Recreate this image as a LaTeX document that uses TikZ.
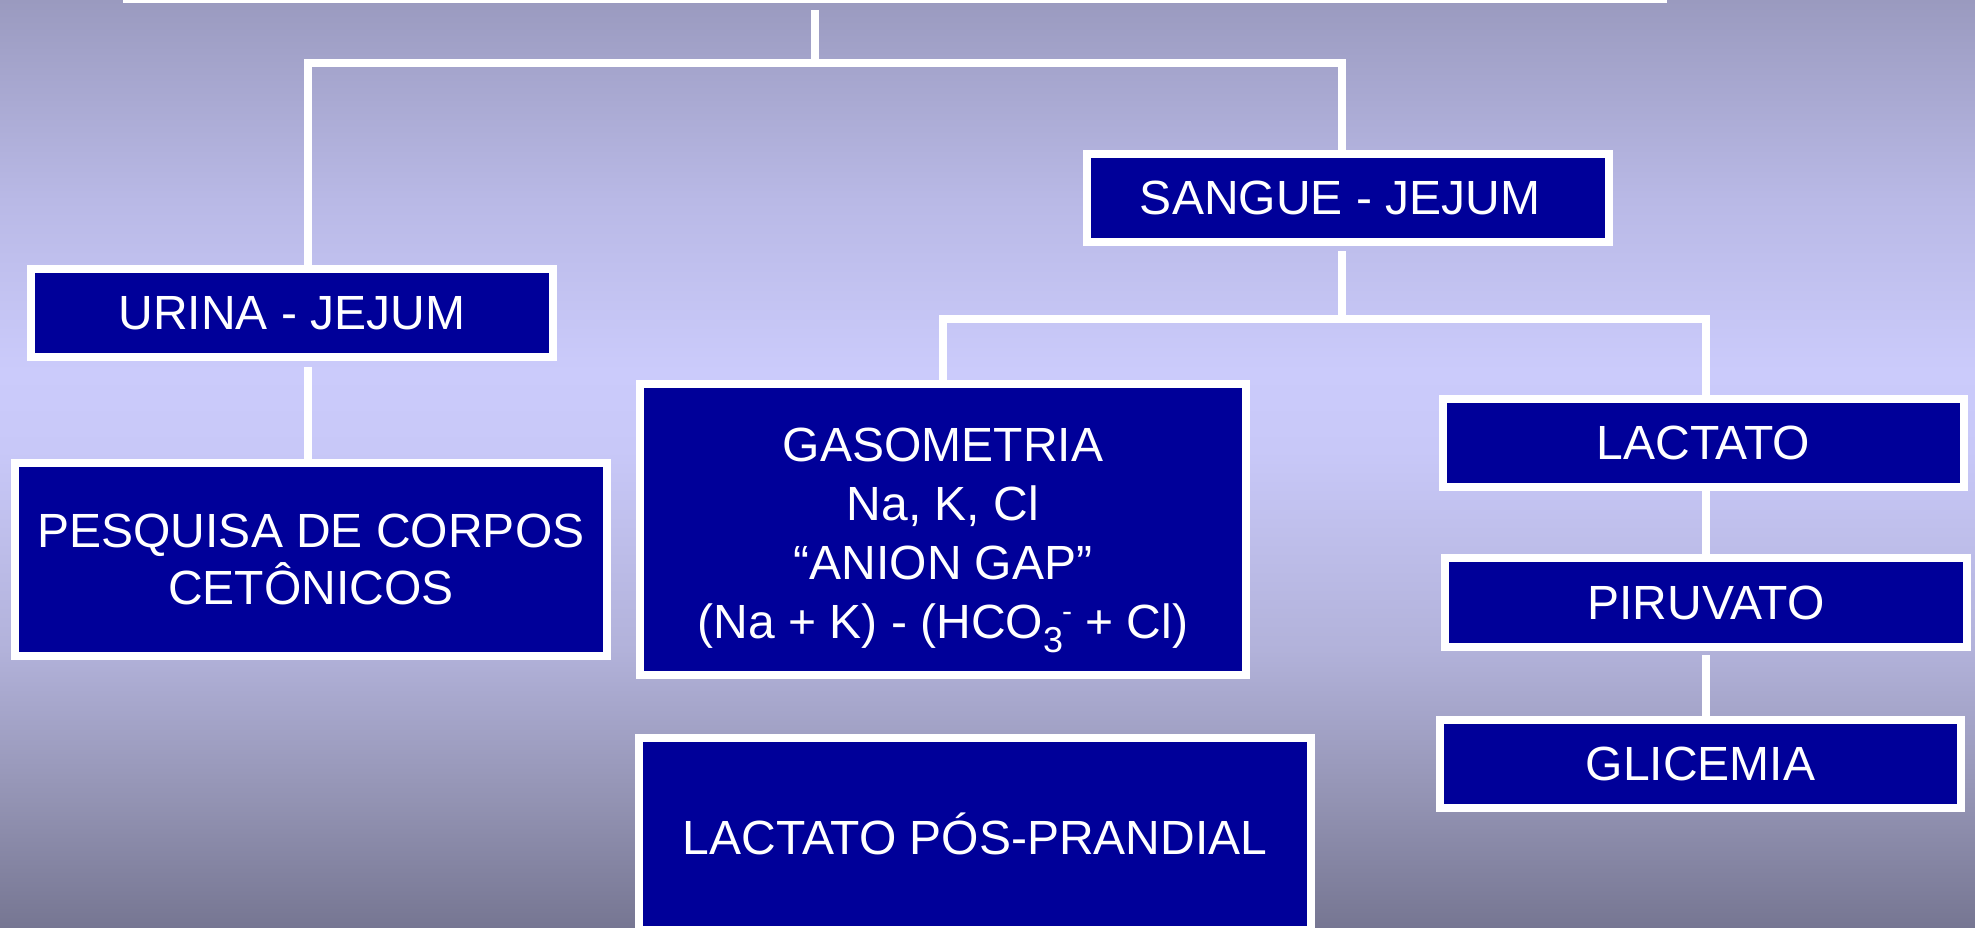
\documentclass[tikz,border=0pt]{standalone}
\usepackage{fontspec}
\setmainfont{Liberation Sans}
\definecolor{boxblue}{HTML}{000099}
\definecolor{bgA}{HTML}{9A9ABF}
\definecolor{bgB}{HTML}{B9B9E6}
\definecolor{bgC}{HTML}{CBCBFB}
\definecolor{bgD}{HTML}{C8C8F8}
\definecolor{bgE}{HTML}{B2B2DA}
\definecolor{bgF}{HTML}{9393B3}
\definecolor{bgG}{HTML}{767692}
\pgfdeclareverticalshading{bgshade}{100bp}{color(0bp)=(bgG); color(25bp)=(bgG); color(31.9bp)=(bgF); color(40bp)=(bgE); color(50.75bp)=(bgD); color(55bp)=(bgC); color(64.2bp)=(bgB); color(75bp)=(bgA); color(100bp)=(bgA)}
\begin{document}
\begin{tikzpicture}[x=1pt,y=-1pt,
  box/.style={draw=white, line width=8pt, fill=boxblue, text=white, inner sep=0pt,
    align=center, anchor=north west, font=\fontsize{48}{57.5}\selectfont},
  conn/.style={draw=white, line width=8pt, line join=miter}]
\clip (0,0) rectangle (1975,928);
\shade[shading=bgshade] (0,0) rectangle (1975,928);
\useasboundingbox (0,0) rectangle (1975,928);

% boxes (outer corner, outer size minus border)
\node[box, anchor=south west, minimum width=1536pt, minimum height=100pt] (root) at (123,3.5) {};
\node[box, minimum width=522pt, minimum height=88pt] (urina) at (27,265) {URINA - JEJUM};
\node[box, minimum width=522pt, minimum height=88pt] (sangue) at (1083,150) {SANGUE - JEJUM\hspace*{16pt}};
\node[box, minimum width=592pt, minimum height=193pt] (pesq) at (11,459) {PESQUISA DE CORPOS\\CETÔNICOS};
\node[box, minimum width=606pt, minimum height=291pt, font=\fontsize{48}{59}\selectfont] (gaso) at (636,380)
  {\rule{0pt}{50pt}GASOMETRIA\\Na, K, Cl\\“ANION GAP”\\(Na + K) - (HCO\smash{\raisebox{-14pt}{\fontsize{36}{36}\selectfont 3}}\hspace{-1pt}\smash{\raisebox{17pt}{\fontsize{30}{30}\selectfont -}} + Cl)};
\node[box, minimum width=521pt, minimum height=88pt] (lact) at (1439,395) {LACTATO};
\node[box, minimum width=522pt, minimum height=89pt] (piru) at (1441,554) {PIRUVATO};
\node[box, minimum width=521pt, minimum height=88pt] (glic) at (1436,716) {GLICEMIA};
\node[box, minimum width=672pt, minimum height=192pt] (pos) at (635,734) {LACTATO PÓS-PRANDIAL};

% junction coordinates
\coordinate (jTop) at (815,63);
\coordinate (jL) at (308,63);
\coordinate (jR) at (1342,63);
\coordinate (kS) at (1342,319);
\coordinate (kL) at (943,319);
\coordinate (kR) at (1705.5,319);
\coordinate (cP) at (1706,0);

% connectors
\draw[conn] (root.south -| jTop) ++(0,6.5) -- (jTop);
\draw[conn] (urina.north -| jL) -- (jL) -- (jR) -- (sangue.north -| jR);
\draw[conn] (urina.south -| jL) ++(0,6) -- (pesq.north -| jL);
\draw[conn] (sangue.south -| kS) ++(0,5) -- (kS);
\draw[conn] (gaso.north -| kL) -- (kL) -- (kR) -- (lact.north -| kR);
\draw[conn] (lact.south -| cP) -- (piru.north -| cP);
\draw[conn] (piru.south -| cP) ++(0,4) -- (glic.north -| cP);
\end{tikzpicture}
\end{document}
